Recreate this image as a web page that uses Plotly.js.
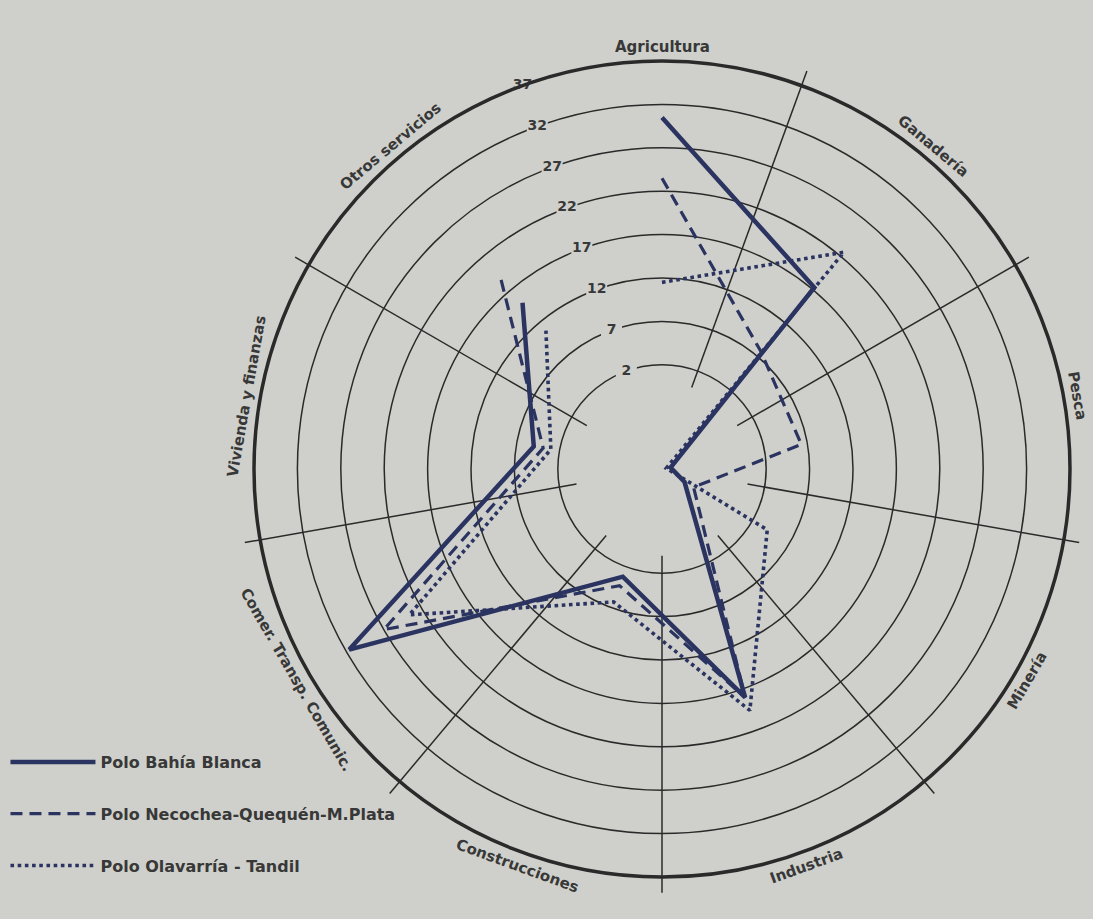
<!DOCTYPE html>
<html>
<head>
<meta charset="utf-8">
<script src="https://cdn.plot.ly/plotly-3.0.1.min.js"></script>
<style>
  html, body { margin: 0; padding: 0; background: #cfd0cb; }
  #chart { width: 1093px; height: 919px; }
</style>
</head>
<body>
<div id="chart"></div>
<script>
// ---- data (radial scale as drawn: centre = -10, circles 2..37) ----
const categories = ['Agricultura', 'Ganadería', 'Pesca', 'Minería', 'Industria',
  'Construcciones', 'Comer. Transp. Comunic.', 'Vivienda y finanzas', 'Otros servicios'];
const bahiaBlanca = [30.5, 17.3, -9.0, -7.0, 18.0, 3.2, 31.6, 5.0, 15.0];
const necochea    = [23.5,  7.7,  6.3, -5.8, 18.0, 4.3, 27.0, 3.9, 19.0];
const olavarria   = [11.5, 22.6, -9.5,  4.0, 19.6, 6.3, 23.6, 3.0, 10.8];
const seriesNames = ['Polo Bahía Blanca', 'Polo Necochea-Quequén-M.Plata', 'Polo Olavarría - Tandil'];
const radialTicks = [2, 7, 12, 17, 22, 27, 32, 37];
const spokeAngles = [20, 60, 100, 140, 180, 220, 260, 300];
const tickLabelAngle = 340;

// ---- geometry / style ----
const W = 1093, H = 919;
const CX = 662, CY = 469, R = 408;
const rMin = -10, rMax = 37, rGridMax = 38.8;   // spokes run a little past the outer circle
const Rg = R * (rGridMax - rMin) / (rMax - rMin);
const domOf = (rad) => ({
  x: [(CX - rad) / W, (CX + rad) / W],
  y: [1 - (CY + rad) / H, 1 - (CY - rad) / H]
});
const dom = domOf(R), domGrid = domOf(Rg);
const ink = '#2a2a2a';
const navy = '#2b3461';
const textCol = '#383838';
const bg = '#cfd0cb';
const fontFam = 'DejaVu Sans, Verdana, sans-serif';

const traces = [
  // radial scale labels, sitting in gaps of the circles along the 340° direction
  { type: 'scatterpolar', subplot: 'polar', r: radialTicks, theta: radialTicks.map(() => tickLabelAngle),
    text: radialTicks.map(String), mode: 'markers+text', textposition: 'middle center',
    marker: { symbol: 'square', size: 21, color: bg, line: { width: 0 } },
    textfont: { family: fontFam, size: 14, color: textCol, weight: 'bold' },
    showlegend: false, hoverinfo: 'skip' },
  { type: 'scatterpolar', subplot: 'polar2', name: seriesNames[0], r: bahiaBlanca, theta: categories,
    mode: 'lines', line: { color: navy, width: 4.5 }, legendgroup: 'a' },
  { type: 'scatterpolar', subplot: 'polar2', name: seriesNames[1], r: necochea, theta: categories,
    mode: 'lines', line: { color: navy, width: 3.2, dash: '12px,7px' }, legendgroup: 'b' },
  { type: 'scatterpolar', subplot: 'polar2', name: seriesNames[2], r: olavarria, theta: categories,
    mode: 'lines', line: { color: navy, width: 3.6, dash: '3.6px,3.6px' }, legendgroup: 'c' }
];

// category labels along the outer circle, rotated tangentially
const gap = 14;
const annotations = categories.map((c, i) => {
  const th = i * 360 / categories.length;
  const rad = th * Math.PI / 180;
  const cx = (dom.x[0] + dom.x[1]) / 2, cy = (dom.y[0] + dom.y[1]) / 2;
  let ang = th;
  if (th > 90 && th < 270) ang = th - 180;
  if (th >= 270) ang = th - 360;
  return {
    xref: 'paper', yref: 'paper',
    x: cx + (R + gap) * Math.sin(rad) / W,
    y: cy + (R + gap) * Math.cos(rad) / H,
    text: c, showarrow: false, textangle: ang,
    xanchor: 'center', yanchor: 'middle',
    font: { family: fontFam, size: 15, color: textCol, weight: 'bold' }
  };
});

const layout = {
  width: W, height: H,
  margin: { l: 0, r: 0, t: 0, b: 0 },
  paper_bgcolor: bg,
  plot_bgcolor: bg,
  showlegend: true,
  legend: {
    x: 0.005, y: 1 - 745 / H, xanchor: 'left', yanchor: 'top',
    bgcolor: 'rgba(0,0,0,0)', itemwidth: 85, tracegroupgap: 28,
    font: { family: fontFam, size: 16, color: textCol, weight: 'bold' }
  },
  polar: {
    domain: domGrid, hole: (0 - rMin) / (rGridMax - rMin), bgcolor: 'rgba(0,0,0,0)',
    radialaxis: {
      range: [0, rGridMax], tickmode: 'array', tickvals: radialTicks,
      showline: false, ticks: '', showticklabels: false,
      gridcolor: ink, gridwidth: 1.5
    },
    angularaxis: {
      type: 'linear', thetaunit: 'degrees', rotation: 90, direction: 'clockwise',
      tickmode: 'array', tickvals: spokeAngles, showticklabels: false, ticks: '',
      gridcolor: ink, gridwidth: 1.5, showline: false
    }
  },
  polar2: {
    domain: dom, bgcolor: 'rgba(0,0,0,0)',
    radialaxis: { range: [rMin, rMax], visible: false, showgrid: false },
    angularaxis: {
      type: 'category', categoryarray: categories, rotation: 90, direction: 'clockwise',
      showgrid: false, showline: true, linecolor: ink, linewidth: 3.5,
      showticklabels: false, ticks: ''
    }
  },
  annotations: annotations
};

Plotly.newPlot('chart', traces, layout, { displayModeBar: false, staticPlot: true });
</script>
</body>
</html>
